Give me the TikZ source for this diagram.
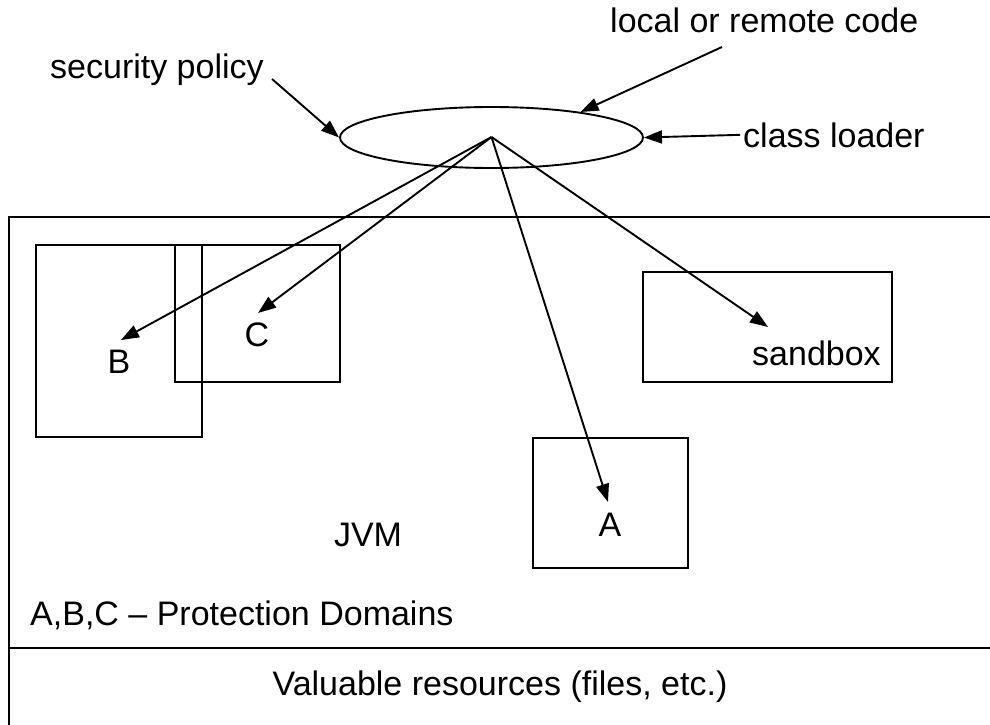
\documentclass[tikz,border=0pt]{standalone}
\usepackage{fontspec}
\setmainfont{Liberation Sans}
\usetikzlibrary{shapes.geometric,arrows.meta}
\begin{document}
\begin{tikzpicture}[x=1pt,y=-1pt,
  lbl/.style={inner sep=0pt, font=\fontsize{34}{40}\selectfont},
  frame/.style={line width=2pt},
  pbox/.style={draw, line width=1.9pt},
  conn/.style={line width=1.9pt, -{Triangle[length=18pt,width=13pt]}}]
\useasboundingbox (0,0) rectangle (990,725);

% JVM frame and the resources strip below it
\draw[frame] (1000,217) -- (9,217) -- (9,740);
\draw[frame] (9,648) -- (1000,648);

% protection domains and the sandbox
\draw[pbox] (36,245) rectangle (202,437);
\draw[pbox] (175,245) rectangle (340,382);
\draw[pbox] (643,272) rectangle (892,382);
\draw[pbox] (533,438) rectangle (688,568);

% class loader
\node[ellipse, draw, line width=1.9pt, minimum width=303pt, minimum height=61pt, inner sep=0pt] (cl) at (491.5,137.5) {};
\coordinate (hub) at (491.5,137);

% labels
\node[lbl, anchor=base west] (sp) at (50,78) {security policy};
\node[lbl, anchor=base west] (lrc) at (610,33) {local or remote code};
\node[lbl, anchor=base west] (ldr) at (743,147) {class loader};
\node[lbl, anchor=base] (lB) at (119,373) {B};
\node[lbl, anchor=base] (lC) at (257,346) {C};
\node[lbl, anchor=base west] (lS) at (752,365) {sandbox};
\node[lbl, anchor=base] (lA) at (610,536) {A};
\node[lbl, anchor=base] (jvm) at (368,546) {JVM};
\node[lbl, anchor=base west] (pd) at (30,625) {A,B,C – Protection Domains};
\node[lbl, anchor=base] (res) at (500,695) {Valuable resources (files, etc.)};

% connector ends
\coordinate (spEnd) at (272,79);
\coordinate (lrcEnd) at (722,47);
\coordinate (tipB) at (121,340);
\coordinate (tipC) at (258,313);
\coordinate (tipS) at (768,327);
\coordinate (tipA) at (608,502);

% inputs to the class loader
\draw[conn] (spEnd) -- (cl.west);
\draw[conn] (lrcEnd) -- (cl.16);
\draw[conn] (ldr.west) ++(-3,0) -- (cl.east);

% classes placed into their domains
\draw[conn] (hub) -- (tipB);
\draw[conn] (hub) -- (tipC);
\draw[conn] (hub) -- (tipA);
\draw[conn] (hub) -- (tipS);
\end{tikzpicture}
\end{document}
